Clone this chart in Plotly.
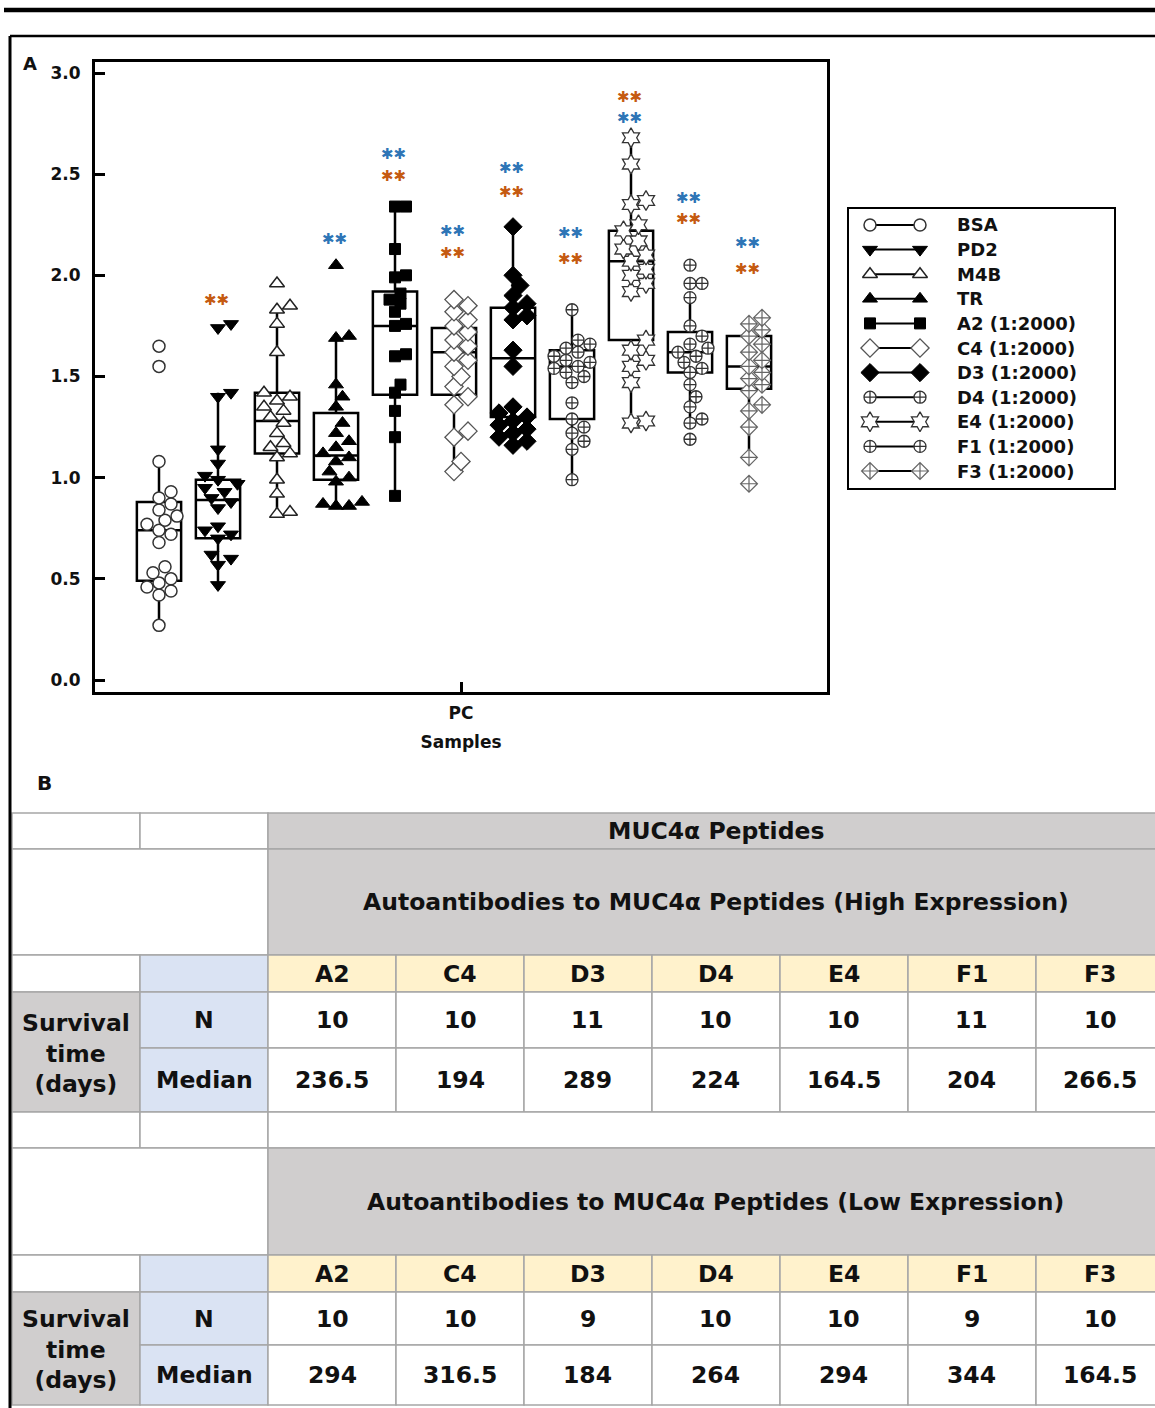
import numpy as np
import plotly.graph_objects as go

W, H = 1155, 1408

# ---------------- DATA ----------------
groups = ["BSA", "PD2", "M4B", "TR", "A2 (1:2000)", "C4 (1:2000)", "D3 (1:2000)",
          "D4 (1:2000)", "E4 (1:2000)", "F1 (1:2000)", "F3 (1:2000)"]

bsa = [0.27, 0.42, 0.44, 0.46, 0.48, 0.50, 0.53, 0.56, 0.68, 0.72, 0.74, 0.77, 0.79, 0.81, 0.84, 0.87, 0.90, 0.93, 1.08, 1.55, 1.65]
pd2 = [0.47, 0.57, 0.60, 0.62, 0.70, 0.72, 0.74, 0.76, 0.85, 0.88, 0.90, 0.93, 0.95, 0.97, 0.99, 1.01, 1.07, 1.14, 1.40, 1.42, 1.74, 1.76]
m4b = [0.82, 0.83, 0.92, 0.99, 1.10, 1.12, 1.15, 1.17, 1.22, 1.27, 1.30, 1.33, 1.35, 1.38, 1.40, 1.42, 1.62, 1.76, 1.83, 1.85, 1.96]
tr = [0.86, 0.86, 0.87, 0.88, 0.98, 1.00, 1.03, 1.08, 1.10, 1.12, 1.15, 1.18, 1.22, 1.27, 1.35, 1.40, 1.46, 1.69, 1.70, 2.05]
a2 = [0.91, 1.20, 1.33, 1.42, 1.46, 1.60, 1.61, 1.75, 1.76, 1.82, 1.86, 1.88, 1.91, 1.99, 2.00, 2.13, 2.34, 2.34]
c4 = [1.03, 1.08, 1.20, 1.23, 1.36, 1.40, 1.45, 1.50, 1.55, 1.58, 1.62, 1.65, 1.68, 1.72, 1.75, 1.78, 1.82, 1.85, 1.88]
d3 = [1.16, 1.18, 1.20, 1.22, 1.24, 1.26, 1.28, 1.30, 1.32, 1.35, 1.55, 1.63, 1.78, 1.80, 1.84, 1.86, 1.90, 1.95, 2.00, 2.24]
d4 = [0.99, 1.14, 1.18, 1.22, 1.25, 1.29, 1.37, 1.47, 1.50, 1.52, 1.54, 1.55, 1.57, 1.58, 1.60, 1.62, 1.64, 1.66, 1.68, 1.83]
e4 = [1.27, 1.28, 1.47, 1.55, 1.58, 1.63, 1.68, 1.92, 1.96, 2.00, 2.03, 2.07, 2.10, 2.13, 2.17, 2.22, 2.25, 2.35, 2.37, 2.55, 2.68]
f1 = [1.19, 1.27, 1.29, 1.35, 1.40, 1.46, 1.52, 1.54, 1.57, 1.60, 1.62, 1.64, 1.66, 1.70, 1.75, 1.89, 1.96, 1.96, 2.05]
f3 = [0.97, 1.10, 1.25, 1.33, 1.36, 1.43, 1.46, 1.49, 1.52, 1.55, 1.58, 1.62, 1.66, 1.70, 1.73, 1.76, 1.79]
values = [bsa, pd2, m4b, tr, a2, c4, d3, d4, e4, f1, f3]

box_q1 = [0.49, 0.70, 1.12, 0.99, 1.41, 1.41, 1.30, 1.29, 1.68, 1.52, 1.44]
box_median = [0.74, 0.89, 1.28, 1.11, 1.75, 1.62, 1.59, 1.55, 2.07, 1.62, 1.55]
box_q3 = [0.88, 0.99, 1.42, 1.32, 1.92, 1.74, 1.84, 1.63, 2.22, 1.72, 1.70]
box_low = [0.27, 0.47, 0.82, 0.86, 0.91, 1.03, 1.16, 0.99, 1.27, 1.27, 1.10]
box_high = [1.08, 1.42, 1.86, 1.70, 2.34, 1.88, 2.24, 1.83, 2.68, 1.88, 1.79]

# significance marks (label height on y scale)
sig_blue_y = [None, None, None, 2.18, 2.60, 2.22, 2.53, 2.21, 2.78, 2.38, 2.16]
sig_orange_y = [None, 1.88, None, None, 2.49, 2.11, 2.41, 2.08, 2.88, 2.28, 2.03]
sig_text = "✱✱"

y_ticks = [0.0, 0.5, 1.0, 1.5, 2.0, 2.5, 3.0]
x_tick_label = "PC"
x_title = "Samples"

# table data
peptides = ["A2", "C4", "D3", "D4", "E4", "F1", "F3"]
high_n = ["10", "10", "11", "10", "10", "11", "10"]
high_median = ["236.5", "194", "289", "224", "164.5", "204", "266.5"]
low_n = ["10", "10", "9", "10", "10", "9", "10"]
low_median = ["294", "316.5", "184", "264", "294", "344", "164.5"]

# ---------------- STYLES ----------------
FONT = "DejaVu Sans"
TXT = "#111111"
BLUE = "#2e75b6"
ORANGE = "#c55a11"
GRAY = "#d0cece"
YELLOW = "#fff2cc"
LBLUE = "#dae3f3"
GRID = "#a6a6a6"

marker_styles = [
    dict(symbol="circle", color="white", line=dict(color="#333", width=1.5), size=12),
    dict(symbol="triangle-down", color="black", line=dict(color="black", width=1), size=13),
    dict(symbol="triangle-up", color="white", line=dict(color="#222", width=1.5), size=13),
    dict(symbol="triangle-up", color="black", line=dict(color="black", width=1), size=13),
    dict(symbol="square", color="black", line=dict(color="black", width=1), size=11),
    dict(symbol="diamond", color="white", line=dict(color="#555", width=1.3), size=14),
    dict(symbol="diamond", color="black", line=dict(color="black", width=1), size=14),
    dict(symbol="circle-cross", color="white", line=dict(color="#333", width=1.3), size=12),
    dict(symbol="hexagram", color="white", line=dict(color="#333", width=1.3), size=15),
    dict(symbol="circle-cross", color="white", line=dict(color="#333", width=1.3), size=12),
    dict(symbol="diamond-cross", color="white", line=dict(color="#666", width=1.2), size=13),
]

# plot geometry (pixels)
PX0, PX1, PY0, PY1 = 95, 827, 62, 692
XR = [-1.0847, 11.322]
YR = [-0.0593, 3.0544]
px_per_x = (PX1 - PX0) / (XR[1] - XR[0])
px_per_y = (PY1 - PY0) / (YR[1] - YR[0])


def swarm(vals, size):
    vals = np.asarray(vals, dtype=float)
    order = np.argsort(vals, kind="stable")
    placed = []
    offs = np.zeros(len(vals))
    d = size * 0.85
    step = size * 0.5
    cands = [0.0]
    for j in range(1, 14):
        cands += [j * step, -j * step]
    for i in order:
        y = vals[i] * px_per_y
        chosen = cands[-1]
        for c in cands:
            if all((c - qx) ** 2 + (y - qy) ** 2 >= d * d for qx, qy in placed):
                chosen = c
                break
        placed.append((chosen, y))
        offs[i] = chosen / px_per_x
    return offs


fig = go.Figure()
xpos = list(range(len(groups)))

fig.add_trace(go.Box(
    x=xpos, q1=box_q1, median=box_median, q3=box_q3,
    lowerfence=box_low, upperfence=box_high,
    width=0.75, whiskerwidth=0, boxpoints=False,
    fillcolor="rgba(0,0,0,0)", line=dict(color="black", width=2.5),
    showlegend=False, hoverinfo="skip"))

for i, vals in enumerate(values):
    offs = swarm(vals, marker_styles[i]["size"])
    fig.add_trace(go.Scatter(
        x=[xpos[i] + o for o in offs], y=vals, mode="markers",
        marker=marker_styles[i], showlegend=False, name=groups[i]))

annotations = []
for i in range(len(groups)):
    for yy, col in ((sig_blue_y[i], BLUE), (sig_orange_y[i], ORANGE)):
        if yy is not None:
            annotations.append(dict(x=xpos[i] - 0.03, y=yy, xref="x", yref="y", text=sig_text,
                                    showarrow=False, xanchor="center", yanchor="middle",
                                    font=dict(family=FONT, size=15, color=col)))

# ---------- custom legend ----------
LX0, LX1, LY0, LY1 = 848, 1115, 208, 489
row0, rowstep = 225, 24.6
for i, g in enumerate(groups):
    yy = row0 + rowstep * i
    fig.add_trace(go.Scatter(
        x=[870, 920], y=[yy, yy], mode="lines+markers", xaxis="x2", yaxis="y2",
        line=dict(color="black", width=2), marker=marker_styles[i],
        showlegend=False, hoverinfo="skip"))
    annotations.append(dict(x=955, y=yy, xref="x2", yref="y2", text=g, showarrow=False,
                            xanchor="left", yanchor="middle",
                            font=dict(family=FONT, size=18, color=TXT, weight="bold")))

shapes = []


def px2x(p):
    return p / W


def py2y(p):
    return 1 - p / H


def line(x0, y0, x1, y1, w, color="black"):
    shapes.append(dict(type="line", xref="paper", yref="paper", x0=px2x(x0), y0=py2y(y0),
                       x1=px2x(x1), y1=py2y(y1), line=dict(color=color, width=w)))


def cell(x0, y0, x1, y1, fill):
    shapes.append(dict(type="rect", xref="paper", yref="paper", x0=px2x(x0), x1=px2x(x1),
                       y0=py2y(y1), y1=py2y(y0), fillcolor=fill,
                       line=dict(color=GRID, width=1.5), layer="below"))


def text(xc, yc, s, size=23.5, anchor="center"):
    annotations.append(dict(xref="paper", yref="paper", x=px2x(xc), y=py2y(yc), text=s,
                            showarrow=False, xanchor=anchor, yanchor="middle",
                            font=dict(family=FONT, size=size, color=TXT, weight="bold")))


# legend border
shapes.append(dict(type="rect", xref="paper", yref="paper", x0=px2x(LX0), x1=px2x(LX1),
                   y0=py2y(LY1), y1=py2y(LY0), line=dict(color="black", width=2)))

# outer frame lines
line(4, 10, 1160, 10, 4.5)
line(10, 36, 1160, 36, 2.5)
line(10, 36, 10, 1410, 3)

# panel labels
text(30, 63, "A", size=18)
text(44, 783, "B", size=20)

# ---------- table ----------
cols = [12, 140, 268, 396, 524, 652, 780, 908, 1036, 1164]


def block(y_sub, y_hdr, y_n, y_med, subtitle, ns, meds):
    cell(12, y_sub[0], 268, y_sub[1], "white")
    cell(268, y_sub[0], cols[-1], y_sub[1], GRAY)
    text((268 + cols[-1]) / 2, (y_sub[0] + y_sub[1]) / 2, subtitle)
    cell(12, y_hdr[0], 140, y_hdr[1], "white")
    cell(140, y_hdr[0], 268, y_hdr[1], LBLUE)
    for k, p in enumerate(peptides):
        cell(cols[k + 2], y_hdr[0], cols[k + 3], y_hdr[1], YELLOW)
        text((cols[k + 2] + cols[k + 3]) / 2, (y_hdr[0] + y_hdr[1]) / 2, p)
    cell(12, y_n[0], 140, y_med[1], GRAY)
    text(76, (y_n[0] + y_med[1]) / 2 + 1, "Survival<br>time<br>(days)")
    cell(140, y_n[0], 268, y_n[1], LBLUE)
    text(204, (y_n[0] + y_n[1]) / 2, "N")
    cell(140, y_med[0], 268, y_med[1], LBLUE)
    text(204, (y_med[0] + y_med[1]) / 2, "Median")
    for k in range(len(peptides)):
        cell(cols[k + 2], y_n[0], cols[k + 3], y_n[1], "white")
        text((cols[k + 2] + cols[k + 3]) / 2, (y_n[0] + y_n[1]) / 2, ns[k])
        cell(cols[k + 2], y_med[0], cols[k + 3], y_med[1], "white")
        text((cols[k + 2] + cols[k + 3]) / 2, (y_med[0] + y_med[1]) / 2, meds[k])


# title row
cell(12, 813, 140, 849, "white")
cell(140, 813, 268, 849, "white")
cell(268, 813, cols[-1], 849, GRAY)
text((268 + cols[-1]) / 2, 831, "MUC4α Peptides")
block((849, 955), (955, 992), (992, 1048), (1048, 1112),
      "Autoantibodies to MUC4α Peptides (High Expression)", high_n, high_median)
# spacer row
cell(12, 1112, 140, 1148, "white")
cell(140, 1112, 268, 1148, "white")
cell(268, 1112, cols[-1], 1148, "white")
block((1148, 1255), (1255, 1292), (1292, 1345), (1345, 1405),
      "Autoantibodies to MUC4α Peptides (Low Expression)", low_n, low_median)

tickfont = dict(family=FONT, size=17, color=TXT, weight="bold")
fig.update_layout(
    width=W, height=H, margin=dict(l=0, r=0, t=0, b=0),
    paper_bgcolor="white", plot_bgcolor="rgba(0,0,0,0)", showlegend=False,
    xaxis=dict(domain=[PX0 / W, PX1 / W], range=XR, showgrid=False, zeroline=False,
               showline=True, linecolor="black", linewidth=3, mirror=True,
               ticks="inside", ticklen=10, tickwidth=2.5, tickcolor="black",
               tickvals=[(XR[0] + XR[1]) / 2], ticktext=[x_tick_label], tickfont=tickfont,
               ticklabelstandoff=4,
               title=dict(text=x_title, font=tickfont, standoff=14)),
    yaxis=dict(domain=[1 - PY1 / H, 1 - PY0 / H], range=YR, showgrid=False, zeroline=False,
               showline=True, linecolor="black", linewidth=3, mirror=True,
               ticks="inside", ticklen=10, tickwidth=2.5, tickcolor="black",
               tickvals=y_ticks, ticktext=[f"{v:.1f}" for v in y_ticks], tickfont=tickfont,
               ticklabelstandoff=8),
    xaxis2=dict(domain=[LX0 / W, LX1 / W], range=[LX0, LX1], visible=False, anchor="y2"),
    yaxis2=dict(domain=[1 - LY1 / H, 1 - LY0 / H], range=[LY1, LY0], visible=False, anchor="x2"),
    shapes=shapes, annotations=annotations,
)

fig.write_html("out.html")
